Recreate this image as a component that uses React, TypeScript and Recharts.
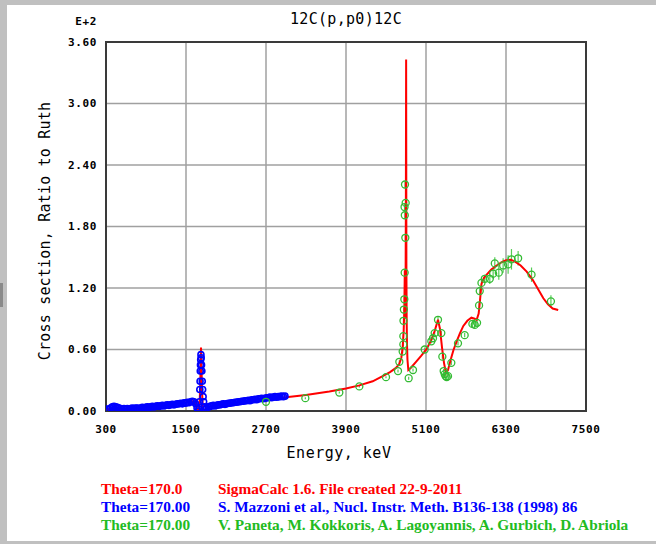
import React from 'react';
import { ComposedChart, Line, Scatter, XAxis, YAxis, CartesianGrid, ErrorBar, ReferenceArea } from 'recharts';

const xTicks = [300, 1500, 2700, 3900, 5100, 6300, 7500];
const yTicks = [0, 0.6, 1.2, 1.8, 2.4, 3.0, 3.6];

// SigmaCalc evaluated curve (units E+2)
const calcE = [300, 400, 500, 700, 900, 1100, 1300, 1450, 1550, 1610, 1640, 1660, 1675, 1690, 1705, 1715, 1725, 1732, 1740, 1750, 1765, 1785, 1810, 1850, 2000, 2200, 2400, 2600, 2800, 3000, 3300, 3650, 3900, 4100, 4300, 4450, 4560, 4650, 4700, 4730, 4750, 4765, 4775, 4782, 4788, 4794, 4798, 4802, 4806, 4810, 4815, 4822, 4835, 4870, 4950, 5030, 5105, 5170, 5230, 5280, 5310, 5340, 5370, 5400, 5430, 5470, 5510, 5560, 5610, 5660, 5720, 5781, 5830, 5860, 5890, 5910, 5932, 5970, 6010, 6080, 6160, 6230, 6300, 6370, 6430, 6520, 6610, 6700, 6780, 6860, 6930, 7000, 7083];
const calcY = [0.02, 0.022, 0.02, 0.025, 0.035, 0.045, 0.06, 0.075, 0.09, 0.095, 0.075, 0.03, 0.0, 0.01, 0.08, 0.3, 0.62, 0.45, 0.2, 0.06, 0.0, 0.01, 0.03, 0.045, 0.06, 0.075, 0.09, 0.105, 0.12, 0.135, 0.155, 0.19, 0.22, 0.25, 0.29, 0.34, 0.38, 0.42, 0.46, 0.52, 0.62, 0.78, 1.0, 1.37, 0.9, 1.3, 2.0, 3.43, 1.4, 0.9, 0.65, 0.5, 0.4, 0.42, 0.48, 0.54, 0.6, 0.68, 0.78, 0.89, 0.8, 0.62, 0.47, 0.37, 0.4, 0.5, 0.59, 0.68, 0.76, 0.83, 0.88, 0.91, 0.9, 0.89, 0.95, 1.08, 1.24, 1.3, 1.33, 1.38, 1.42, 1.45, 1.47, 1.475, 1.46, 1.42, 1.36, 1.28, 1.19, 1.1, 1.04, 1.0, 0.985];

// Mazzoni et al. measured points
const mazE = [320, 345, 370, 395, 420, 445, 470, 495, 520, 545, 570, 595, 620, 645, 670, 695, 720, 745, 770, 795, 820, 845, 870, 895, 920, 945, 970, 995, 1020, 1045, 1070, 1095, 1120, 1145, 1170, 1195, 1220, 1245, 1270, 1295, 1320, 1345, 1370, 1395, 1420, 1445, 1470, 1495, 1520, 1545, 1570, 1595, 1620, 1645, 1665, 1680, 1695, 1702, 1707, 1711, 1714, 1717, 1720, 1724, 1728, 1733, 1738, 1744, 1750, 1757, 1765, 1775, 1790, 1810, 1835, 1860, 1885, 1910, 1935, 1960, 1985, 2010, 2035, 2060, 2085, 2110, 2135, 2160, 2185, 2210, 2235, 2260, 2285, 2310, 2335, 2360, 2385, 2410, 2435, 2460, 2485, 2510, 2535, 2560, 2585, 2610, 2635, 2660, 2685, 2710, 2735, 2760, 2785, 2810, 2835, 2860, 2885, 2910, 2935, 2960, 2985];
const mazY = [0.02, 0.015, 0.03, 0.04, 0.045, 0.04, 0.035, 0.03, 0.025, 0.02, 0.025, 0.02, 0.025, 0.02, 0.025, 0.03, 0.025, 0.03, 0.03, 0.025, 0.03, 0.035, 0.03, 0.035, 0.04, 0.035, 0.04, 0.045, 0.04, 0.045, 0.05, 0.045, 0.05, 0.055, 0.05, 0.055, 0.06, 0.055, 0.06, 0.065, 0.06, 0.065, 0.07, 0.07, 0.075, 0.07, 0.08, 0.075, 0.085, 0.08, 0.09, 0.095, 0.09, 0.07, 0.03, 0.0, 0.02, 0.09, 0.21, 0.29, 0.39, 0.45, 0.5, 0.55, 0.52, 0.45, 0.39, 0.29, 0.21, 0.14, 0.09, 0.04, 0.02, 0.03, 0.04, 0.045, 0.05, 0.055, 0.05, 0.055, 0.06, 0.06, 0.065, 0.07, 0.065, 0.07, 0.075, 0.075, 0.08, 0.08, 0.085, 0.085, 0.09, 0.09, 0.095, 0.095, 0.1, 0.1, 0.105, 0.1, 0.11, 0.11, 0.115, 0.11, 0.12, 0.12, 0.125, 0.12, 0.125, 0.13, 0.13, 0.135, 0.13, 0.135, 0.14, 0.135, 0.14, 0.14, 0.145, 0.14, 0.145];

// Paneta et al. measured points with uncertainties
const panE = [2700, 3290, 3800, 4100, 4500, 4680, 4700, 4750, 4760, 4760, 4762, 4768, 4775, 4780, 4790, 4782, 4778, 4795, 4785, 4840, 4905, 5080, 5180, 5205, 5230, 5280, 5330, 5345, 5365, 5380, 5395, 5410, 5430, 5480, 5580, 5680, 5796, 5831, 5866, 5896, 5906, 5932, 5982, 6057, 6107, 6132, 6192, 6257, 6332, 6382, 6482, 6683, 6974];
const panY = [0.09, 0.125, 0.18, 0.24, 0.33, 0.39, 0.48, 0.58, 0.65, 0.73, 0.88, 0.99, 1.09, 1.35, 1.69, 1.91, 1.99, 2.03, 2.21, 0.32, 0.4, 0.6, 0.68, 0.71, 0.76, 0.89, 0.76, 0.53, 0.39, 0.36, 0.34, 0.33, 0.34, 0.47, 0.66, 0.74, 0.85, 0.84, 0.86, 1.03, 1.17, 1.25, 1.29, 1.29, 1.34, 1.44, 1.35, 1.42, 1.43, 1.48, 1.49, 1.33, 1.07];
const panErr = [0.01, 0.01, 0.01, 0.01, 0.01, 0.015, 0.015, 0.02, 0.02, 0.02, 0.02, 0.02, 0.02, 0.03, 0.03, 0.03, 0.03, 0.03, 0.03, 0.015, 0.015, 0.02, 0.02, 0.02, 0.02, 0.03, 0.02, 0.02, 0.02, 0.02, 0.02, 0.02, 0.02, 0.02, 0.02, 0.02, 0.03, 0.03, 0.03, 0.03, 0.03, 0.03, 0.04, 0.05, 0.05, 0.06, 0.07, 0.07, 0.09, 0.1, 0.07, 0.07, 0.06];

const legendLeft = ['Theta=170.0', 'Theta=170.00', 'Theta=170.00'];
const legendRight = [
  'SigmaCalc 1.6. File created 22-9-2011',
  'S. Mazzoni et al., Nucl. Instr. Meth. B136-138 (1998) 86',
  'V. Paneta, M. Kokkoris, A. Lagoyannis, A. Gurbich, D. Abriola',
];
const legendColors = ['#ff0000', '#0000ff', '#22bb22'];

const calcData = calcE.map((e, i) => ({ e, y: calcY[i] }));
const mazData = mazE.map((e, i) => ({ e, y: mazY[i] }));
const panData = panE.map((e, i) => ({ e, y: panY[i], err: panErr[i] }));

const MONO = '"DejaVu Sans Mono", monospace';

const YTick = (props: any) => {
  const { x, y, payload } = props;
  return (
    <text x={x} y={y} textAnchor="end" dominantBaseline="central" fontFamily={MONO} fontWeight="bold" fontSize={11} letterSpacing={0.6} fill="#000">
      {Number(payload.value).toFixed(2)}
    </text>
  );
};

const XTick = (props: any) => {
  const { x, y, payload } = props;
  return (
    <text x={x} y={y} textAnchor="middle" dominantBaseline="central" fontFamily={MONO} fontWeight="bold" fontSize={11} letterSpacing={0.6} fill="#000">
      {payload.value}
    </text>
  );
};

const blueDot = (p: any) => <circle cx={p.cx} cy={p.cy} r={3} fill="none" stroke="#0000ff" strokeWidth={1.6} />;
const greenDot = (p: any) => <circle cx={p.cx} cy={p.cy} r={3.5} fill="none" stroke="#33bb33" strokeWidth={1.3} />;

export default function App() {
  const W = 656;
  const H = 544;
  const yAxisW = 40;
  const xAxisH = 30;
  return (
    <div style={{ position: 'absolute', left: 0, top: 0, width: W, height: H, background: '#c0c0c0', overflow: 'hidden' }}>
      <div style={{ position: 'absolute', left: 7, top: 5, width: W - 7, height: 536, background: '#ffffff' }} />
      <div style={{ position: 'absolute', left: 0, top: 283, width: 3, height: 24, background: '#8a8a8a' }} />
      <div style={{ position: 'absolute', left: 0, top: 0 }}>
        <ComposedChart width={W} height={H} margin={{ top: 42, right: 70, bottom: 133 - xAxisH, left: 106 - yAxisW }}>
          <CartesianGrid stroke="#a0a0a0" strokeWidth={1.5} horizontalValues={yTicks} verticalValues={xTicks} />
          <XAxis type="number" dataKey="e" domain={[300, 7500]} ticks={xTicks} allowDataOverflow height={xAxisH} axisLine={false} tickLine={false} tickSize={0} tickMargin={18} tick={<XTick />} interval={0} />
          <YAxis type="number" dataKey="y" domain={[0, 3.6]} ticks={yTicks} allowDataOverflow width={yAxisW} axisLine={false} tickLine={false} tickSize={0} tickMargin={9} tick={<YTick />} interval={0} />
          <ReferenceArea x1={300} x2={7500} y1={0} y2={3.6} fill="none" stroke="#3a3a3a" strokeWidth={2} ifOverflow="visible" />
          <Scatter data={mazData} dataKey="y" shape={blueDot} isAnimationActive={false} />
          <Scatter data={panData} dataKey="y" shape={greenDot} isAnimationActive={false}>
            <ErrorBar dataKey="err" direction="y" width={0} stroke="#55cc55" strokeWidth={1.2} />
          </Scatter>
          <Line data={calcData} dataKey="y" type="linear" dot={false} stroke="#ff0000" strokeWidth={2} isAnimationActive={false} />
        </ComposedChart>
      </div>
      <svg width={W} height={H} style={{ position: 'absolute', left: 0, top: 0, pointerEvents: 'none' }}>
        <text x={346} y={19} textAnchor="middle" dominantBaseline="central" fontFamily={MONO} fontSize={15} letterSpacing={0.3} fill="#000">12C(p,p0)12C</text>
        <text x={97} y={21} textAnchor="end" dominantBaseline="central" fontFamily={MONO} fontWeight="bold" fontSize={11} letterSpacing={0.6} fill="#000">E+2</text>
        <text x={339} y={453} textAnchor="middle" dominantBaseline="central" fontFamily={MONO} fontSize={15} letterSpacing={0.5} fill="#000">Energy, keV</text>
        <text transform="translate(45,231) rotate(-90)" textAnchor="middle" dominantBaseline="central" fontFamily={MONO} fontSize={15} letterSpacing={0.2} fill="#000">Cross section, Ratio to Ruth</text>
        {legendLeft.map((t, i) => (
          <text key={'l' + i} x={101} y={494 + i * 18} fontFamily='"Liberation Serif", serif' fontWeight="bold" fontSize={15.3} fill={legendColors[i]}>{t}</text>
        ))}
        {legendRight.map((t, i) => (
          <text key={'r' + i} x={218} y={494 + i * 18} fontFamily='"Liberation Serif", serif' fontWeight="bold" fontSize={15.3} fill={legendColors[i]}>{t}</text>
        ))}
      </svg>
    </div>
  );
}
